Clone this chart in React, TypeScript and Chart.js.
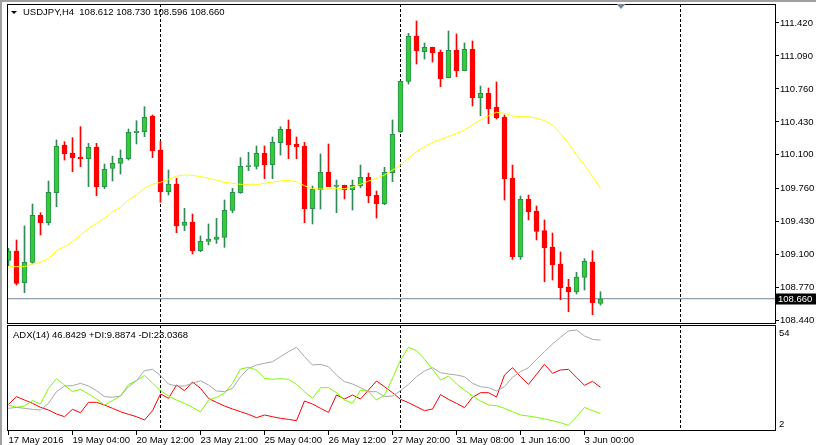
import React, { useEffect, useRef } from 'react';
import { Chart, registerables } from 'chart.js';

Chart.register(...registerables);

// ---------- DATA ----------
const symbolName = 'USDJPY,H4';

const opens = [
  109.044, 109.138, 108.821, 109.024, 109.495, 109.421, 109.721, 110.199, 110.119, 110.078,
  110.062, 110.179, 109.782, 109.965, 110.015, 110.062, 110.322, 110.332, 110.489, 110.149,
  109.731, 109.808, 109.394, 109.428, 109.141, 109.234, 109.254, 109.274, 109.545, 109.721,
  109.982, 109.985, 110.115, 110.002, 110.222, 110.355, 110.209, 110.189, 109.561, 109.751,
  109.925, 109.785, 109.795, 109.751, 109.792, 109.875, 109.695, 109.611, 109.922, 110.332,
  110.836, 111.290, 111.133, 111.176, 111.130, 110.873, 111.146, 110.943, 111.156, 110.672,
  110.716, 110.576, 110.479, 109.865, 109.081, 109.655, 109.538, 109.341, 109.178, 109.007,
  108.777, 108.730, 108.874, 109.027, 108.612,
];
const highs = [
  109.164, 109.248, 109.388, 109.608, 109.521, 109.838, 110.249, 110.232, 110.272, 110.382,
  110.215, 110.215, 110.008, 110.088, 110.149, 110.359, 110.442, 110.582, 110.499, 110.235,
  109.948, 109.865, 109.565, 109.508, 109.288, 109.408, 109.465, 109.648, 109.765, 110.072,
  110.125, 110.189, 110.189, 110.279, 110.382, 110.449, 110.279, 110.225, 109.788, 110.109,
  110.209, 109.848, 109.797, 109.848, 109.998, 109.918, 109.738, 109.975, 110.449, 110.840,
  111.316, 111.440, 111.220, 111.178, 111.150, 111.340, 111.310, 111.220, 111.240, 110.789,
  110.769, 110.829, 110.499, 109.998, 109.688, 109.698, 109.588, 109.448, 109.318, 109.128,
  108.854, 108.924, 109.061, 109.141, 108.730,
];
const lows = [
  108.991, 108.797, 108.720, 109.014, 109.298, 109.398, 109.581, 110.048, 109.932, 109.982,
  109.782, 109.691, 109.761, 109.838, 109.908, 110.048, 110.209, 110.282, 110.072, 109.625,
  109.698, 109.321, 109.341, 109.108, 109.131, 109.198, 109.214, 109.174, 109.521, 109.715,
  109.942, 109.958, 109.862, 109.862, 110.098, 110.062, 110.062, 109.421, 109.408, 109.558,
  109.782, 109.521, 109.658, 109.548, 109.771, 109.621, 109.468, 109.601, 109.832, 110.322,
  110.809, 111.009, 111.059, 111.029, 110.783, 110.871, 110.883, 110.941, 110.589, 110.492,
  110.412, 110.459, 109.648, 109.054, 109.054, 109.448, 109.248, 108.830, 108.847, 108.650,
  108.530, 108.707, 108.747, 108.500, 108.596,
];
const closes = [
  109.138, 108.814, 109.024, 109.495, 109.421, 109.725, 110.189, 110.112, 110.072, 110.062,
  110.175, 109.782, 109.955, 110.015, 110.065, 110.325, 110.339, 110.476, 110.139, 109.728,
  109.808, 109.388, 109.428, 109.141, 109.234, 109.258, 109.278, 109.545, 109.725, 109.985,
  109.992, 110.115, 110.002, 110.225, 110.355, 110.202, 110.182, 109.561, 109.755, 109.925,
  109.782, 109.798, 109.748, 109.795, 109.875, 109.691, 109.611, 109.925, 110.305, 110.836,
  111.290, 111.143, 111.176, 111.123, 110.863, 111.146, 110.943, 111.156, 110.672, 110.716,
  110.562, 110.469, 109.862, 109.081, 109.655, 109.531, 109.334, 109.171, 109.001, 108.771,
  108.730, 108.877, 109.034, 108.620, 108.660,
];
const maValues = [
  108.981, 108.981, 108.981, 109.007, 109.024, 109.064, 109.141, 109.181, 109.231, 109.298,
  109.364, 109.414, 109.465, 109.531, 109.575, 109.648, 109.698, 109.765, 109.805, 109.825,
  109.855, 109.888, 109.898, 109.895, 109.882, 109.865, 109.848, 109.825, 109.815, 109.805,
  109.801, 109.801, 109.815, 109.828, 109.838, 109.845, 109.831, 109.791, 109.761, 109.758,
  109.758, 109.761, 109.761, 109.778, 109.805, 109.838, 109.865, 109.898, 109.948, 109.998,
  110.065, 110.132, 110.182, 110.222, 110.255, 110.282, 110.315, 110.349, 110.402, 110.449,
  110.492, 110.526, 110.516, 110.489, 110.482, 110.482, 110.466, 110.442, 110.399, 110.315,
  110.215, 110.098, 109.998, 109.882, 109.765,
];
const adxValues = [
  12.44, 12.94, 12.44, 11.93, 11.59, 14.96, 20.85, 23.71, 23.88, 25.06,
  23.71, 21.35, 18.33, 17.99, 18.66, 23.37, 26.40, 31.45, 32.12, 28.93,
  24.72, 23.71, 23.71, 25.06, 26.40, 24.21, 21.19, 20.85, 22.53, 28.42,
  32.63, 34.31, 35.15, 36.00, 38.52, 41.04, 43.23, 38.52, 34.31, 34.65,
  33.47, 29.26, 25.90, 24.72, 22.87, 20.85, 20.85, 18.33, 18.66, 21.35,
  24.55, 28.42, 31.28, 32.97, 30.44, 29.77, 29.26, 28.42, 25.06, 23.37,
  22.87, 21.19, 23.37, 28.09, 30.95, 32.97, 37.17, 41.04, 44.91, 48.28,
  51.48, 51.98, 48.95, 47.27, 46.8429,
];
const plusDI = [
  14.12, 12.94, 13.61, 16.31, 14.62, 22.53, 27.41, 24.21, 20.85, 22.03,
  19.67, 17.15, 14.12, 16.31, 18.66, 24.55, 26.40, 29.10, 25.06, 21.35,
  18.66, 16.64, 14.96, 12.94, 10.58, 16.64, 17.99, 20.02, 25.06, 32.29,
  33.13, 31.79, 27.58, 27.08, 27.41, 27.08, 24.55, 20.85, 17.48, 22.87,
  22.87, 20.34, 16.64, 14.96, 21.69, 20.85, 16.64, 19.17, 27.58, 36.84,
  43.23, 41.55, 37.17, 32.12, 26.74, 28.76, 24.72, 21.69, 18.66, 16.14,
  14.12, 13.78, 12.44, 10.75, 9.07, 8.56, 7.89, 7.05, 6.21, 5.20,
  3.85, 8.23, 12.94, 11.26, 9.8874,
];
const minusDI = [
  14.46, 18.33, 16.64, 14.96, 12.94, 11.59, 9.58, 8.23, 11.93, 10.25,
  15.47, 15.47, 14.12, 12.44, 10.75, 9.41, 8.23, 6.55, 11.26, 19.67,
  17.48, 24.21, 21.35, 25.73, 22.53, 17.48, 15.47, 13.61, 12.10, 10.75,
  9.41, 7.72, 9.07, 8.23, 7.39, 6.88, 6.21, 16.14, 14.62, 12.44,
  10.42, 19.17, 17.15, 19.17, 17.15, 21.69, 26.23, 23.37, 20.34, 16.98,
  15.30, 13.28, 11.26, 12.10, 19.34, 16.98, 14.96, 12.77, 17.99, 20.34,
  20.34, 18.16, 29.26, 32.97, 28.42, 24.55, 29.60, 34.65, 30.11, 31.79,
  32.12, 28.09, 24.05, 26.07, 23.0368,
];
const priceTicks = [108.44, 108.77, 109.1, 109.43, 109.76, 110.1, 110.43, 110.76, 111.09, 111.42];
const timeLabels = [
  '17 May 2016', '19 May 04:00', '20 May 12:00', '23 May 21:00', '25 May 04:00',
  '26 May 12:00', '27 May 20:00', '31 May 08:00', '1 Jun 16:00', '3 Jun 00:00',
];
const timeLabelBars = [0, 8, 16, 24, 32, 40, 48, 56, 64, 72];
const separatorBars = [19, 49, 84];
const adxScaleLabels = ['54', '2'];

// ---------- STYLE ----------
const FONT_FAMILY = "'Liberation Sans', Arial, sans-serif";
const FONT_SIZE = 9.5;
const X_MIN = -0.1875;
const X_MAX = 95.9375;

export default function App() {
  const mainRef = useRef<HTMLCanvasElement>(null);
  const indRef = useRef<HTMLCanvasElement>(null);

  useEffect(() => {
    document.body.style.margin = '0';
    const idx = closes.map((_, i) => i);
    const bull = idx.map((i) => closes[i] >= opens[i]);
    const n = closes.length;
    const last = closes[n - 1];
    const fontStr = `${FONT_SIZE}px ${FONT_FAMILY}`;

    const mainDecor = {
      id: 'mainDecor',
      beforeDraw(chart: any) {
        const { ctx, width, height } = chart;
        ctx.save();
        ctx.fillStyle = '#ffffff';
        ctx.fillRect(0, 0, width, height);
        ctx.fillStyle = '#a0a0a0';
        ctx.fillRect(0, 0, width, 2);
        ctx.fillRect(0, 0, 2, height);
        ctx.restore();
      },
      afterDraw(chart: any) {
        const { ctx, chartArea: a } = chart;
        const ys = chart.scales.y;
        const xs = chart.scales.x;
        ctx.save();
        ctx.strokeStyle = '#000';
        ctx.lineWidth = 1;
        ctx.strokeRect(a.left + 0.5, a.top + 0.5, a.right - a.left - 1, a.bottom - a.top - 1);
        // chart shift marker
        const sx = Math.round(xs.getPixelForValue(n - 1 + 2.5));
        ctx.fillStyle = '#778899';
        ctx.beginPath();
        ctx.moveTo(sx - 4.5, a.top);
        ctx.lineTo(sx + 4.5, a.top);
        ctx.lineTo(sx, a.top + 5);
        ctx.closePath();
        ctx.fill();
        // title
        ctx.fillStyle = '#000';
        ctx.beginPath();
        ctx.moveTo(11, 11);
        ctx.lineTo(17, 11);
        ctx.lineTo(14, 14);
        ctx.closePath();
        ctx.fill();
        ctx.font = fontStr;
        ctx.textBaseline = 'middle';
        ctx.textAlign = 'left';
        const title = `${symbolName}  ${opens[n - 1].toFixed(3)} ${highs[n - 1].toFixed(3)} ${lows[n - 1].toFixed(3)} ${last.toFixed(3)}`;
        ctx.fillText(title, 23, 12.5);
        // current price label
        const py = ys.getPixelForValue(last);
        ctx.fillStyle = '#000';
        ctx.fillRect(a.right, Math.round(py) - 5.5, 40, 11);
        ctx.fillStyle = '#fff';
        ctx.fillText(last.toFixed(3), a.right + 2, Math.round(py));
        ctx.restore();
      },
    };

    const indDecor = {
      id: 'indDecor',
      beforeDraw(chart: any) {
        const { ctx, width, height } = chart;
        ctx.save();
        ctx.fillStyle = '#ffffff';
        ctx.fillRect(0, 0, width, height);
        ctx.fillStyle = '#a0a0a0';
        ctx.fillRect(0, 0, 2, height);
        ctx.restore();
      },
      afterDraw(chart: any) {
        const { ctx, chartArea: a } = chart;
        ctx.save();
        ctx.strokeStyle = '#000';
        ctx.lineWidth = 1;
        ctx.strokeRect(a.left + 0.5, a.top + 0.5, a.right - a.left - 1, a.bottom - a.top - 1);
        ctx.fillStyle = '#000';
        ctx.font = fontStr;
        ctx.textBaseline = 'middle';
        ctx.textAlign = 'left';
        const t = `ADX(14) ${adxValues[n - 1].toFixed(4)} +DI:${plusDI[n - 1].toFixed(4)} -DI:${minusDI[n - 1].toFixed(4)}`;
        ctx.fillText(t, 13, 10);
        ctx.fillText(adxScaleLabels[0], a.right + 3, a.top + 8.5);
        ctx.fillText(adxScaleLabels[1], a.right + 3, a.bottom - 7);
        ctx.restore();
      },
    };

    const zeroPad = (s: any) => {
      s.paddingTop = 0;
      s.paddingBottom = 0;
      s.paddingLeft = 0;
      s.paddingRight = 0;
    };

    const sepAxis = (position: string) => ({
      type: 'linear',
      position,
      min: X_MIN,
      max: X_MAX,
      offset: false,
      afterBuildTicks: (s: any) => {
        s.ticks = separatorBars.map((v) => ({ value: v }));
      },
      afterFit: (s: any) => {
        s.height = 0;
        zeroPad(s);
      },
      ticks: { display: false },
      grid: { color: '#000', lineWidth: 1, drawTicks: false, offset: false },
      border: { display: false, dash: [3, 2] },
    });

    const main = new Chart(mainRef.current as HTMLCanvasElement, {
      type: 'bar',
      data: {
        datasets: [
          {
            type: 'line',
            label: 'Bid',
            data: [
              { x: X_MIN, y: last },
              { x: X_MAX, y: last },
            ],
            borderColor: '#778899',
            borderWidth: 1,
            pointRadius: 0,
            order: 5,
          } as any,
          {
            type: 'bar',
            label: 'wicks',
            data: idx.map((i) => ({ x: i, y: [lows[i], highs[i]] })),
            backgroundColor: idx.map((i) => (bull[i] ? '#2e8b57' : '#ff0000')),
            barThickness: 1,
            grouped: false,
            order: 4,
          } as any,
          {
            type: 'bar',
            label: 'bodies',
            data: idx.map((i) => ({ x: i, y: [opens[i], closes[i]] })),
            backgroundColor: idx.map((i) => (bull[i] ? '#32cd32' : '#ff0000')),
            borderColor: idx.map((i) => (bull[i] ? '#2e8b57' : '#ff0000')),
            borderWidth: 1,
            borderSkipped: false,
            barThickness: 5,
            minBarLength: 1,
            grouped: false,
            order: 3,
          } as any,
          {
            type: 'line',
            label: 'MA',
            data: idx.map((i) => ({ x: i, y: maValues[i] })),
            borderColor: '#ffff00',
            borderWidth: 1,
            pointRadius: 0,
            tension: 0,
            order: 1,
          } as any,
        ],
      },
      options: {
        responsive: false,
        animation: false,
        events: [],
        layout: { padding: { left: 7, top: 4, right: 0, bottom: 1 } },
        plugins: { legend: { display: false }, tooltip: { enabled: false } },
        scales: {
          x: sepAxis('bottom') as any,
          y: {
            type: 'linear',
            position: 'right',
            min: 108.407,
            max: 111.61,
            beginAtZero: false,
            afterBuildTicks: (s: any) => {
              s.ticks = priceTicks.map((v) => ({ value: v }));
            },
            afterFit: (s: any) => {
              s.width = 40;
              zeroPad(s);
            },
            ticks: {
              autoSkip: false,
              color: '#000',
              padding: 1,
              font: { family: FONT_FAMILY, size: FONT_SIZE },
              callback: (v: any) => Number(v).toFixed(3),
            },
            grid: { drawOnChartArea: false, drawTicks: true, tickLength: 3, color: '#000' },
            border: { display: false },
          },
        },
      },
      plugins: [mainDecor],
    } as any);

    const ind = new Chart(indRef.current as HTMLCanvasElement, {
      type: 'line',
      data: {
        datasets: [
          {
            label: 'ADX',
            data: idx.map((i) => ({ x: i, y: adxValues[i] })),
            borderColor: '#a9a9a9',
            borderWidth: 1,
            pointRadius: 0,
            tension: 0,
          },
          {
            label: '+DI',
            data: idx.map((i) => ({ x: i, y: plusDI[i] })),
            borderColor: '#7cfc00',
            borderWidth: 1,
            pointRadius: 0,
            tension: 0,
          },
          {
            label: '-DI',
            data: idx.map((i) => ({ x: i, y: minusDI[i] })),
            borderColor: '#ff0000',
            borderWidth: 1,
            pointRadius: 0,
            tension: 0,
          },
        ],
      },
      options: {
        responsive: false,
        animation: false,
        events: [],
        layout: { padding: { left: 7, top: 0, right: 0, bottom: 0 } },
        plugins: { legend: { display: false }, tooltip: { enabled: false } },
        scales: {
          x: {
            type: 'linear',
            position: 'bottom',
            min: X_MIN,
            max: X_MAX,
            offset: false,
            afterBuildTicks: (s: any) => {
              s.ticks = timeLabelBars.map((v) => ({ value: v }));
            },
            afterFit: (s: any) => {
              s.height = 14;
              zeroPad(s);
            },
            ticks: {
              autoSkip: false,
              maxRotation: 0,
              minRotation: 0,
              align: 'start',
              padding: 0,
              color: '#000',
              font: { family: FONT_FAMILY, size: FONT_SIZE },
              callback: (v: any) => {
                const k = timeLabelBars.indexOf(Number(v));
                return k >= 0 ? timeLabels[k] : '';
              },
            },
            grid: { drawOnChartArea: false, drawTicks: true, tickLength: 4, color: '#000', offset: false },
            border: { display: false },
          },
          xs: sepAxis('top') as any,
          y: {
            type: 'linear',
            position: 'right',
            min: 1.0,
            max: 54.5,
            afterFit: (s: any) => {
              s.width = 40;
              zeroPad(s);
            },
            ticks: { display: false },
            grid: { display: false },
            border: { display: false },
          },
        },
      },
      plugins: [indDecor],
    } as any);

    return () => {
      main.destroy();
      ind.destroy();
    };
  }, []);

  return (
    <div style={{ position: 'relative', width: 816, height: 445, background: '#fff', overflow: 'hidden' }}>
      <canvas
        ref={mainRef}
        width={816}
        height={325}
        style={{ position: 'absolute', left: 0, top: 0, display: 'block' }}
      />
      <canvas
        ref={indRef}
        width={816}
        height={120}
        style={{ position: 'absolute', left: 0, top: 325, display: 'block' }}
      />
    </div>
  );
}
